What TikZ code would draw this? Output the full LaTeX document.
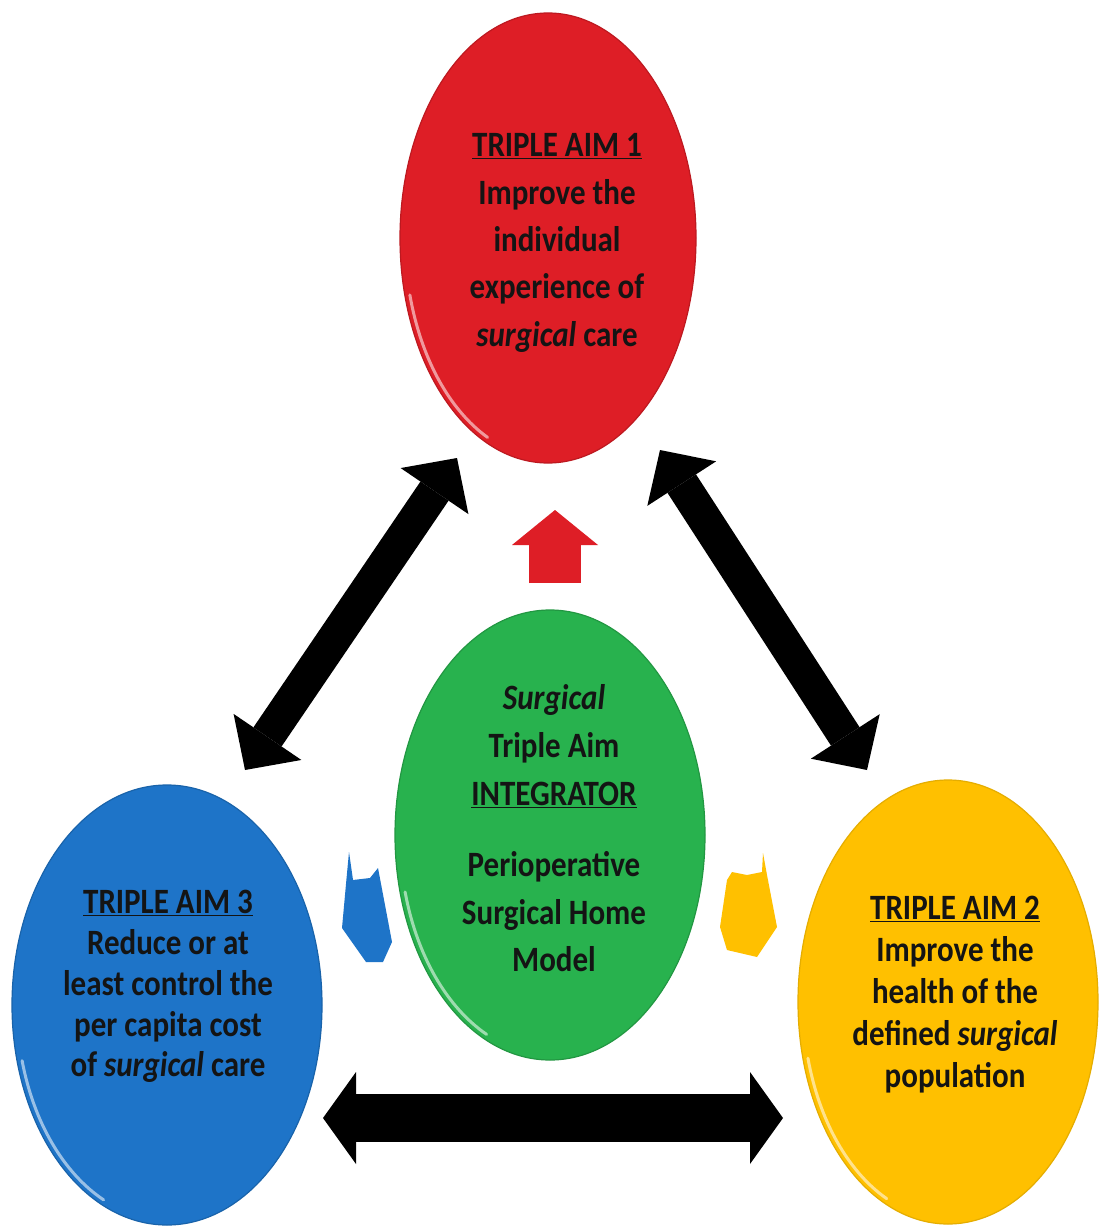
\documentclass[tikz,border=0pt]{standalone}
\usepackage{fontspec}
\setmainfont{Carlito}
\usepackage{graphicx}
\usetikzlibrary{arrows.meta,shapes.geometric,calc}

\definecolor{aimred}{RGB}{222,30,38}
\definecolor{aimgreen}{RGB}{40,178,78}
\definecolor{aimblue}{RGB}{30,116,200}
\definecolor{aimyellow}{RGB}{255,192,0}
\definecolor{ink}{RGB}{20,20,20}

% centred block of lines, slightly stretched vertically; #1 = line spacing
\newcommand\aimtext[2]{\scalebox{1}[1.15]{\fontsize{31}{#1}\selectfont\bfseries
  \begin{tabular}{@{}c@{}}#2\end{tabular}}}

\begin{document}
\begin{tikzpicture}[x=1pt,y=-1pt,
  aim/.style={ellipse, outer sep=0pt, inner sep=0pt, line width=1.2pt},
  caption/.style={text=ink, inner sep=0pt, align=center},
  bigarrow/.style={draw=black, line width=34pt,
    {Triangle[length=40pt,width=82pt,line width=0pt]}-{Triangle[length=40pt,width=82pt,line width=0pt]}},
  basearrow/.style={draw=black, line width=48pt,
    {Triangle[length=33pt,width=92pt,line width=0pt]}-{Triangle[length=33pt,width=92pt,line width=0pt]}},
  redarrow/.style={draw=aimred, line width=52pt,
    -{Triangle[length=35pt,width=86pt,line width=0pt]}},
  rim/.style={white, opacity=.55, line width=3pt, line cap=round},
]
\useasboundingbox (0,0) rectangle (1103,1231);
\fill[white] (0,0) rectangle (1103,1231);

% the four aims
\node[aim, fill=aimred, draw=aimred!85!black, minimum width=296pt, minimum height=450pt] (red) at (548,238) {};
\node[aim, fill=aimgreen, draw=aimgreen!85!black, minimum width=310pt, minimum height=450pt] (green) at (550,835) {};
\node[aim, fill=aimblue, draw=aimblue!85!black, minimum width=310pt, minimum height=440pt] (blue) at (167,1005) {};
\node[aim, fill=aimyellow, draw=aimyellow!90!black, minimum width=300pt, minimum height=444pt] (yellow) at (948,1002) {};

% bevel highlights on the lower left of each disc
\draw[rim] (red.center) ++(195:143pt and 220pt) arc[start angle=195, end angle=245, x radius=143pt, y radius=220pt];
\draw[rim] (green.center) ++(195:150pt and 220pt) arc[start angle=195, end angle=245, x radius=150pt, y radius=220pt];
\draw[rim] (blue.center) ++(195:150pt and 215pt) arc[start angle=195, end angle=245, x radius=150pt, y radius=215pt];
\draw[rim] (yellow.center) ++(195:145pt and 217pt) arc[start angle=195, end angle=245, x radius=145pt, y radius=217pt];

% texts
\node[caption] (redtext) at ([shift={(9,4)}]red.center) {\aimtext{41.3}{%
  \underline{TRIPLE AIM 1}\\ Improve the\\ individual\\ experience of\\ \textit{surgical} care}};
\node[caption] (greentext) at ([shift={(4,-4)}]green.center) {\aimtext{41.7}{%
  \textit{Surgical}\\ Triple Aim\\ \underline{INTEGRATOR}\\[20pt] Perioperative\\ Surgical Home\\ Model}};
\node[caption] (bluetext) at ([shift={(1,-18)}]blue.center) {\aimtext{35.5}{%
  \underline{TRIPLE AIM 3}\\ Reduce or at\\ least control the\\ per capita cost\\ of \textit{surgical} care}};
\node[caption] (yellowtext) at ([shift={(7,-7)}]yellow.center) {\aimtext{36.5}{%
  \underline{TRIPLE AIM 2}\\ Improve the\\ health of the\\ defined \textit{surgical}\\ population}};

% two-way links between the aims
\draw[bigarrow] ([shift={(78,-15)}]blue.north) -- ([shift={(-91,-5)}]red.south);
\draw[bigarrow] ([shift={(112,-13)}]red.south) -- ([shift={(-81,-10)}]yellow.north);
\draw[basearrow] ([shift={(1,113)}]blue.east) -- ([shift={(-15,116)}]yellow.west);

% integrator feeding each aim
\draw[redarrow] ([shift={(5,-27)}]green.north) -- ([shift={(7,47)}]red.south);
\begin{scope}[shift={(green.west)}]
  \fill[aimblue] (-46,17) -- (-42,45) -- (-25,43) -- (-17,33) -- (-3,107) -- (-12,127)
    -- (-29,127) -- (-53,93) -- (-49,49) -- cycle;
\end{scope}
\begin{scope}[shift={(green.east)}]
  \fill[aimyellow] (27,37) -- (42,40) -- (57,37) -- (58,18) -- (62,40) -- (72,92)
    -- (52,122) -- (22,115) -- (15,92) -- (22,45) -- cycle;
\end{scope}
\end{tikzpicture}
\end{document}
